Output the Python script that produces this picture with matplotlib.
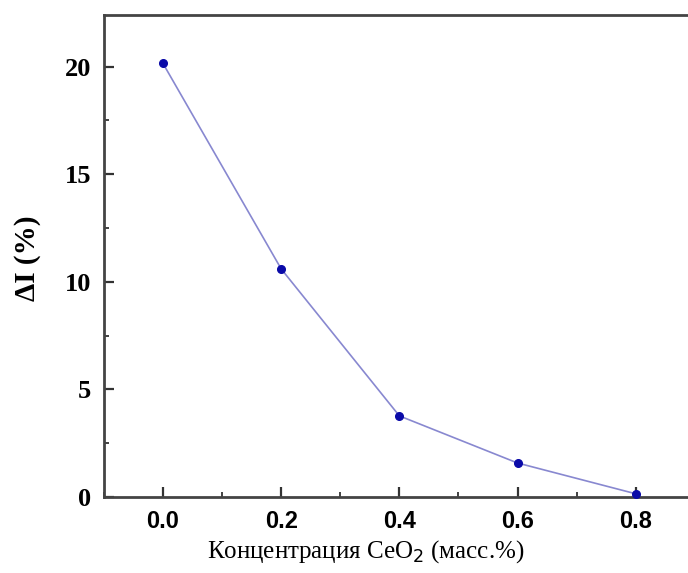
import matplotlib
matplotlib.use("Agg")
import matplotlib.pyplot as plt
from matplotlib.ticker import MultipleLocator

conc = [0.0, 0.2, 0.4, 0.6, 0.8]
delta_i = [20.15, 10.6, 3.77, 1.58, 0.15]
xticks = [0.0, 0.2, 0.4, 0.6, 0.8]
yticks = [0, 5, 10, 15, 20]

fig = plt.figure(figsize=(6.88, 5.73), dpi=100)
ax = fig.add_axes([0.151, 0.1326, 0.859, 0.8412])

ax.plot(conc, delta_i, color="#8888d0", lw=1.2, zorder=2)
ax.plot(conc, delta_i, "o", color="#0a0aa8", ms=5.5, zorder=3, clip_on=False)

ax.set_xlim(-0.1, 0.9)
ax.set_ylim(0, 22.4)
ax.set_xticks(xticks)
ax.set_yticks(yticks)
ax.xaxis.set_minor_locator(MultipleLocator(0.1))
ax.yaxis.set_minor_locator(MultipleLocator(2.5))
ax.set_xticklabels([f"{v:.1f}" for v in xticks], fontfamily="Liberation Sans",
                   fontweight="bold", fontsize=17)
ax.set_yticklabels([str(v) for v in yticks], fontfamily="Liberation Serif",
                   fontweight="bold", fontsize=19)
ax.tick_params(which="major", direction="in", length=7, width=1.6, color="#333333")
ax.tick_params(which="minor", direction="in", length=3.5, width=1.3, color="#333333")
ax.tick_params(axis="x", which="major", pad=9)
ax.tick_params(axis="y", which="major", pad=9)
ax.tick_params(axis="y", which="both", right=False)
ax.tick_params(axis="x", which="both", top=False)

for s in ["left", "bottom", "top"]:
    ax.spines[s].set_linewidth(2)
    ax.spines[s].set_color("#444444")
ax.spines["right"].set_visible(False)

ax.set_ylabel("ΔI (%)", fontfamily="Liberation Serif", fontweight="bold", fontsize=21,
              va="center", ha="center")
ax.yaxis.set_label_coords(-0.130, 0.496)
ax.set_xlabel("Концентрация CeO$_2$ (масс.%)", fontfamily="Liberation Serif", fontsize=18,
              va="center", ha="center")
ax.xaxis.set_label_coords(0.443, -0.114)

fig.savefig("out.png", dpi=100)
